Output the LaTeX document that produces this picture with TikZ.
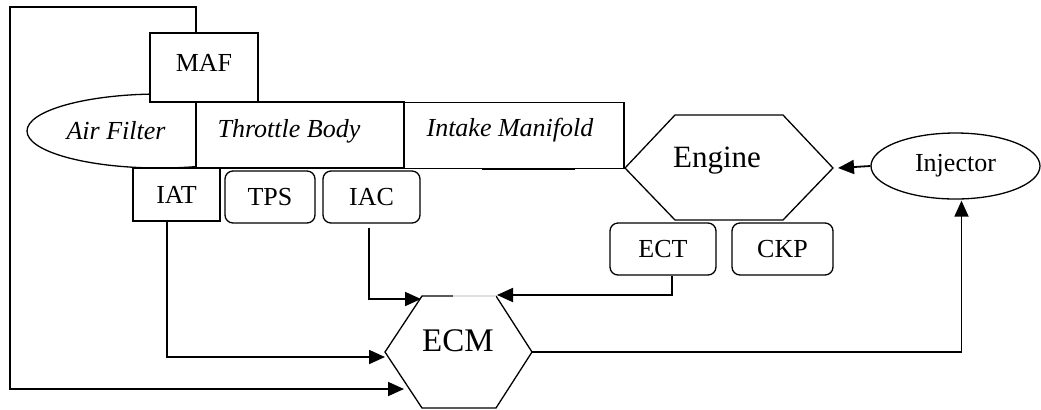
\documentclass[tikz,border=0pt]{standalone}
\usepackage{fontspec}
\setmainfont{Liberation Serif}
\usetikzlibrary{arrows.meta,shapes.geometric}

\tikzset{
    box/.style={draw, line width=0.65pt, fill=white, inner sep=0pt},
    sensor/.style={draw, line width=0.65pt, fill=white, rounded corners=4pt, inner sep=0pt},
    lbl/.style={font=\fontsize{13}{15}\selectfont},
    part/.style={font=\fontsize{13}{15}\selectfont\itshape, inner sep=0pt},
    wire/.style={line width=0.9pt, -{Triangle[length=8pt,width=7pt]}},
}

\begin{document}
\begin{tikzpicture}[x=0.5pt,y=-0.5pt]
    \useasboundingbox (0,0) rectangle (1041,409);

    \node[draw, ellipse, line width=0.65pt, minimum width=133pt, minimum height=37pt] (filter) at (160,131) {};
    \node[box, lbl, minimum width=54pt, minimum height=34.5pt, text depth=5pt] (maf) at (204,67.5) {MAF};
    \node[box, minimum width=104pt, minimum height=33pt] (throttle) at (300,135) {};
    \node[box, minimum width=110pt, minimum height=33pt] (manifold) at (514,135.5) {};
    \draw[line width=1.2pt] (482,169) -- (575,169);

    \node[part] (filtertext) at (116,131) {Air Filter};
    \node[part] (throttletext) at (289,131) {Throttle Body};
    \node[part] (manifoldtext) at (510,130) {Intake Manifold};

    \node[box, lbl, minimum width=43.5pt, minimum height=26.5pt] (iat) at (176.5,194.5) {IAT};
    \node[sensor, lbl, minimum width=45pt, minimum height=26pt] (tps) at (270,197) {TPS};
    \node[sensor, lbl, minimum width=48.5pt, minimum height=26pt] (iac) at (371.5,197) {IAC};
    \node[sensor, lbl, minimum width=53pt, minimum height=26pt] (ect) at (663,249) {ECT};
    \node[sensor, lbl, minimum width=50.5pt, minimum height=26pt] (ckp) at (782.5,249) {CKP};

    \draw[line width=0.65pt] (625,168) -- (675,115) -- (783,115) -- (833,168)
    -- (783,220) -- (675,220) -- cycle;
    \node[font=\fontsize{15.5}{18}\selectfont] (engine) at (717,161) {Engine};
    \coordinate (engineE) at (838,168);

    \node[draw, ellipse, lbl, line width=0.65pt, minimum width=84.5pt, minimum height=33pt] (inj) at (955.5,166) {Injector};

    \draw[line width=0.65pt] (453,296) -- (422,296) -- (385,352) -- (422,408)
    -- (496,408) -- (532,352) -- (496,296);
    \draw[line width=0.65pt, black!12] (496,296) -- (453,296);
    \node[font=\fontsize{16.5}{19}\selectfont] (ecm) at (458,341) {ECM};
    \coordinate (ecmW) at (385,357);
    \coordinate (ecmNW) at (421,299);
    \coordinate (ecmNE) at (497,295);
    \coordinate (ecmSW) at (404,389);
    \coordinate (ecmE) at (532,352);

    \draw[wire] (inj.west) -- (engineE);
    \draw[wire] ([xshift=-4.75pt]iat.south) |- (ecmW);
    \draw[wire] ([xshift=-1.25pt,yshift=-2pt]iac.south) |- (ecmNW);
    \draw[wire] ([xshift=4.5pt]ect.south) |- (ecmNE);
    \draw[wire] ([xshift=-4pt]maf.north) |- (10,7) |- (ecmSW);
    \draw[wire] (ecmE) -| ([xshift=3pt,yshift=-0.5pt]inj.south);
\end{tikzpicture}
\end{document}
